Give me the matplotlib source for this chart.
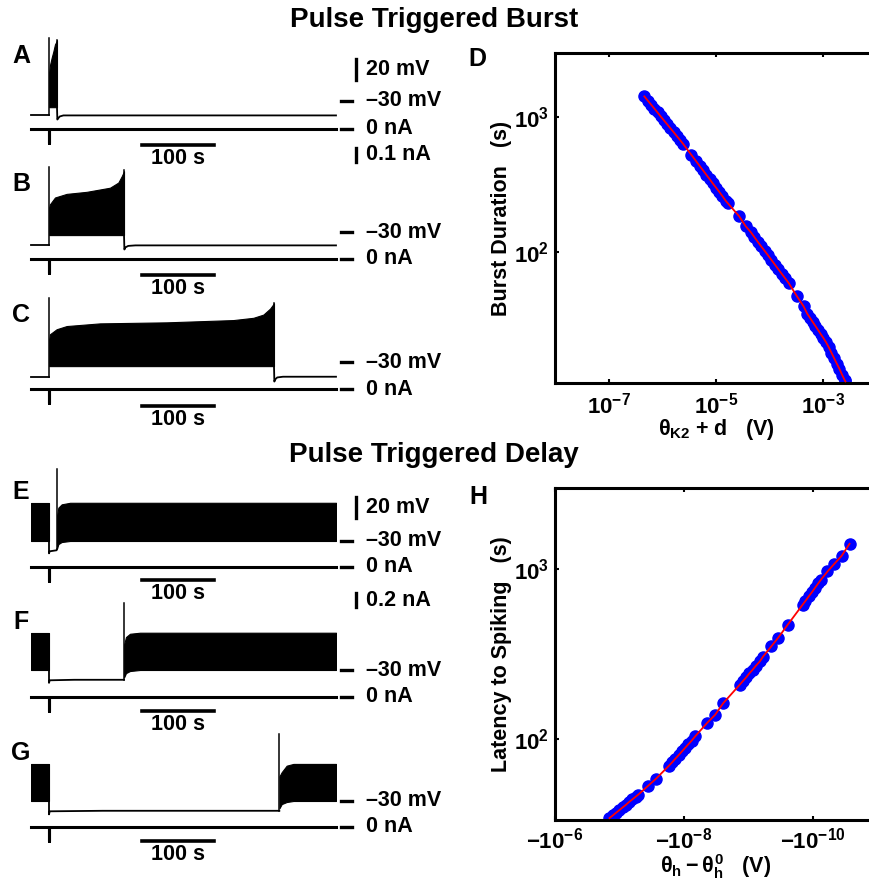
import matplotlib
matplotlib.use('Agg')
import matplotlib.pyplot as plt
from matplotlib.ticker import FixedLocator, FixedFormatter, NullLocator

plt.rcParams['font.family'] = ['Liberation Sans', 'DejaVu Sans']
plt.rcParams['font.weight'] = 'bold'
plt.rcParams['mathtext.fontset'] = 'custom'
plt.rcParams['mathtext.rm'] = 'Liberation Sans:bold'
plt.rcParams['mathtext.bf'] = 'Liberation Sans:bold'
plt.rcParams['mathtext.it'] = 'Liberation Sans:bold'
plt.rcParams['mathtext.sf'] = 'Liberation Sans:bold'

# ---------------- data ----------------
T_END = 423.6      # s, length of every trace
T_PULSE = 25.0     # s, time of the current pulse

# current pulses (nA)
I_t = [0, T_PULSE, T_PULSE, T_PULSE + 0.6, T_PULSE + 0.6, T_END]
I_burst = [0, 0, -0.1, -0.1, 0, 0]
I_delay = [0, 0, -0.2, -0.2, 0, 0]

# A: short burst (mV)
A_pre_t = [0, T_PULSE]
A_pre_v = [-44, -44]
A_band_t = [25.3, 26.4, 28.7, 31.0, 33.3, 35.6, 36.1]
A_band_hi = [-2, 5, 12, 18, 25, 28, 29]
A_band_lo = [-36, -36, -36, -36, -36, -36, -36]
A_post_t = [36.1, 36.6, 37.5, 40, 45, T_END]
A_post_v = [-36, -48, -47, -45, -44, -44]
A_spikes = [(25.0, -44, 31), (36.1, -36, 29)]

# B: medium burst
B_pre_t = [0, T_PULSE]
B_pre_v = [-43, -43]
B_band_t = [25.3, 26.4, 33.3, 49.5, 77.3, 109.7, 121.3, 125.9, 129.2]
B_band_hi = [-6, -3, 3.5, 7, 9, 13, 18, 24, 29]
B_band_lo = [-33, -33, -33, -33, -33, -33, -33, -33, -33]
B_post_t = [129.2, 129.7, 131, 135, 145, T_END]
B_post_v = [-33, -47, -45, -43.5, -43, -43]
B_spikes = [(25.0, -43, 33), (129.2, -33, 30)]

# C: long burst
C_pre_t = [0, T_PULSE]
C_pre_v = [-44.3, -44.3]
C_band_t = [25.3, 26.4, 35.6, 49.5, 95.8, 188.4, 281, 308.8, 322.7, 332, 337.5]
C_band_hi = [-8, -3, 1.8, 4.9, 7.5, 8.5, 10.7, 12.9, 16, 21.8, 27]
C_band_lo = [-34, -34, -34, -34, -34, -34, -34, -34, -34, -34, -34]
C_post_t = [337.5, 338, 339, 342, 350, T_END]
C_post_v = [-34, -49, -47, -45, -44.3, -44.3]
C_spikes = [(25.0, -44.3, 32), (337.5, -34, 27)]

# E: short delay
E_pre_t = [0, T_PULSE]
E_pre_hi = [7, 7]
E_pre_lo = [-30, -30]
E_quiet_t = [25, 25, 26, 35.5, 36.1]
E_quiet_v = [-30, -42, -40, -39, -38]
E_band_t = [36.3, 38, 42.6, 54.2, T_END]
E_band_hi = [-5, 2.4, 5.6, 7.1, 7.1]
E_band_lo = [-37, -33, -31, -30, -30]
E_spikes = [(36.1, -38, 40)]

# F: medium delay
F_pre_t = [0, T_PULSE]
F_pre_hi = [6, 6]
F_pre_lo = [-30, -30]
F_quiet_t = [25, 25, 26, 60, 129.2]
F_quiet_v = [-30, -42.5, -40, -39.5, -39.5]
F_band_t = [129.4, 131.9, 137.5, 151.4, T_END]
F_band_hi = [-5, 2, 5.2, 6.2, 6.2]
F_band_lo = [-37, -33, -31, -30, -30]
F_spikes = [(129.2, -39.5, 35)]

# G: long delay
G_pre_t = [0, T_PULSE]
G_pre_hi = [6, 6]
G_pre_lo = [-30, -30]
G_quiet_t = [25, 25, 26, 100, 344.9]
G_quiet_v = [-30, -43, -40, -39.5, -39.5]
G_band_t = [345.1, 348.2, 355.1, 364.4, T_END]
G_band_hi = [-6, -2, 4.3, 6, 6]
G_band_lo = [-37, -33, -31, -30, -30]
G_spikes = [(344.9, -39.5, 35)]

# D: burst duration vs theta_K2 + d
D_theta = [4.62e-7, 5.37e-7, 6.17e-7, 7.08e-7, 8.13e-7, 9.33e-7, 1.07e-6, 1.23e-6,
           1.41e-6, 1.62e-6, 1.86e-6, 2.14e-6, 2.45e-6,
           3.45e-6, 4.17e-6, 5.01e-6, 5.75e-6, 6.61e-6, 7.59e-6, 8.71e-6, 1.0e-5,
           1.15e-5, 1.32e-5, 1.51e-5, 1.64e-5,
           2.70e-5, 3.58e-5,
           4.47e-5, 5.18e-5, 6.0e-5, 6.95e-5, 8.05e-5, 9.33e-5, 1.08e-4, 1.25e-4,
           1.45e-4, 1.68e-4, 1.95e-4, 2.26e-4,
           3.22e-4, 4.28e-4,
           5.01e-4, 5.62e-4, 6.31e-4, 7.08e-4, 7.94e-4, 8.91e-4, 1.0e-3, 1.12e-3,
           1.26e-3, 1.41e-3, 1.58e-3, 1.78e-3, 2.0e-3, 2.24e-3, 2.51e-3, 2.58e-3]
D_dur = [1422, 1321, 1236, 1156, 1081, 1009, 944, 883, 826, 773, 722, 675, 631,
         526, 476, 432, 402, 373, 347, 322, 300, 279, 259, 240, 231,
         184, 155,
         140, 129, 119, 110, 102, 94.4, 87.3, 80.7, 74.5, 68.9, 63.7, 58.9,
         47.0, 39.6,
         34.9, 32.6, 30.4, 28.4, 26.5, 24.7, 23.1, 21.5, 19.7, 18.0, 16.4, 14.9,
         13.6, 12.3, 11.2, 11.0]

# H: latency vs theta_h - theta_h^0
H_dtheta = [-1.426e-7, -1.259e-7, -1.122e-7, -1.0e-7, -8.91e-8, -7.94e-8, -7.08e-8,
            -6.31e-8, -5.62e-8, -5.13e-8, -3.66e-8, -2.73e-8,
            -1.70e-8, -1.51e-8, -1.35e-8, -1.20e-8, -1.07e-8, -9.55e-9, -8.51e-9,
            -7.59e-9, -6.61e-9, -4.38e-9, -3.26e-9, -2.43e-9,
            -1.35e-9, -1.20e-9, -1.07e-9, -9.55e-10, -8.51e-10, -7.59e-10, -6.61e-10,
            -5.87e-10, -4.38e-10, -3.45e-10, -2.43e-10,
            -1.43e-10, -1.29e-10, -1.15e-10, -1.02e-10, -9.12e-11, -8.13e-11, -7.41e-11,
            -5.87e-11, -4.65e-11, -3.54e-11, -2.67e-11]
H_lat = [34.3, 35.6, 36.9, 38.2, 39.6, 41.0, 42.6, 44.1, 45.7, 47.0, 52.7, 58.2,
         69.7, 73.1, 76.7, 80.5, 84.5, 88.7, 93.1, 97.7, 104, 124, 139, 163,
         209, 220, 231, 244, 256, 270, 286, 306, 351, 393, 471,
         617, 650, 690, 733, 778, 826, 867, 968, 1069, 1197, 1409]

# ---------------- layout ----------------
W, H = 870, 881
fig = plt.figure(figsize=(W / 100, H / 100), dpi=100)

X0 = 31            # px where traces start
PX_PER_S = 0.72    # 100 s = 72 px
MV_PX = 1.03       # px per mV
FS = 15.5


def add_ax(x0, y0, x1, y1):
    return fig.add_axes([x0 / W, 1 - y1 / H, (x1 - x0) / W, (y1 - y0) / H])


def t_at(px):
    return (px - X0) / PX_PER_S


def volt_ax(ref):
    ax = add_ax(X0, ref - 90, X0 + T_END * PX_PER_S, ref + 25)
    ax.set_xlim(0, T_END)
    ax.set_ylim(-30 - 25 / MV_PX, -30 + 90 / MV_PX)
    ax.axis('off')
    return ax


def curr_ax(zero, px_nA):
    ax = add_ax(X0, zero - 10, X0 + T_END * PX_PER_S, zero + 40)
    ax.set_xlim(0, T_END)
    ax.set_ylim(-40 / px_nA, 10 / px_nA)
    ax.axis('off')
    return ax


def draw_trace(ref, zero, bar, px_nA, I, lines, bands, spikes, label):
    av = volt_ax(ref)
    for t, v in lines:
        av.plot(t, v, color='black', lw=1.3, clip_on=False)
    for t, hi, lo in bands:
        av.fill_between(t, lo, hi, facecolor='black', edgecolor='black', lw=0.8)
    for t, lo, hi in spikes:
        av.plot([t, t], [lo, hi], color='black', lw=1.1, clip_on=False)
    # -30 mV marker
    av.plot([t_at(341), t_at(352)], [-30, -30], color='black', lw=2.4, clip_on=False)
    av.text(t_at(366), -30, '\u201330 mV', fontsize=FS, va='center', ha='left')

    ai = curr_ax(zero, px_nA)
    ai.plot(I_t, I, color='black', lw=2.2, clip_on=False)
    ai.plot([t_at(341), t_at(352)], [0, 0], color='black', lw=2.4, clip_on=False)
    ai.text(t_at(366), 0, '0 nA', fontsize=FS, va='center', ha='left')
    yb = -(bar - zero) / px_nA
    ai.plot([t_at(142), t_at(214)], [yb, yb], color='black', lw=2.6, clip_on=False)
    ai.text(t_at(178), yb - 3 / px_nA, '100 s', fontsize=FS, ha='center', va='top')

    fig.text(21 / W, 1 - label[1] / H, label[0], fontsize=18, ha='center', va='center')
    return av, ai


avA, aiA = draw_trace(101, 129, 145, 140, I_burst,
                      [(A_pre_t, A_pre_v), (A_post_t, A_post_v)],
                      [(A_band_t, A_band_hi, A_band_lo)], A_spikes, ('A', 56))
avB, aiB = draw_trace(232, 259, 275, 140, I_burst,
                      [(B_pre_t, B_pre_v), (B_post_t, B_post_v)],
                      [(B_band_t, B_band_hi, B_band_lo)], B_spikes, ('B', 184))
avC, aiC = draw_trace(362, 389, 406, 140, I_burst,
                      [(C_pre_t, C_pre_v), (C_post_t, C_post_v)],
                      [(C_band_t, C_band_hi, C_band_lo)], C_spikes, ('C', 315))
avE, aiE = draw_trace(541, 567, 580, 70, I_delay,
                      [(E_quiet_t, E_quiet_v)],
                      [(E_pre_t, E_pre_hi, E_pre_lo), (E_band_t, E_band_hi, E_band_lo)],
                      E_spikes, ('E', 492))
avF, aiF = draw_trace(670, 697, 711, 70, I_delay,
                      [(F_quiet_t, F_quiet_v)],
                      [(F_pre_t, F_pre_hi, F_pre_lo), (F_band_t, F_band_hi, F_band_lo)],
                      F_spikes, ('F', 622))
avG, aiG = draw_trace(801, 827, 841, 70, I_delay,
                      [(G_quiet_t, G_quiet_v)],
                      [(G_pre_t, G_pre_hi, G_pre_lo), (G_band_t, G_band_hi, G_band_lo)],
                      G_spikes, ('G', 753))

# amplitude scale bars
xb = t_at(356)
avA.plot([xb, xb], [-9.5, 10.5], color='black', lw=2.4, clip_on=False)
avA.text(t_at(366), 0.5, '20 mV', fontsize=FS, va='center', ha='left')
aiA.plot([xb, xb], [-(162 - 129) / 140, -(148 - 129) / 140], color='black', lw=2.4, clip_on=False)
aiA.text(t_at(366), -(155 - 129) / 140, '0.1 nA', fontsize=FS, va='center', ha='left')
avE.plot([xb, xb], [-7.5, 12.5], color='black', lw=2.4, clip_on=False)
avE.text(t_at(366), 2.5, '20 mV', fontsize=FS, va='center', ha='left')
aiE.plot([xb, xb], [-(607 - 567) / 70, -(593 - 567) / 70], color='black', lw=2.4, clip_on=False)
aiE.text(t_at(366), -(600 - 567) / 70, '0.2 nA', fontsize=FS, va='center', ha='left')

# titles
fig.text(434 / W, 1 - 20 / H, 'Pulse Triggered Burst', fontsize=20, ha='center', va='center')
fig.text(434 / W, 1 - 455 / H, 'Pulse Triggered Delay', fontsize=20, ha='center', va='center')


def style_log(ax, xt, xl, yt, yl, xpad):
    for s in ax.spines.values():
        s.set_linewidth(2.2)
    ax.xaxis.set_major_locator(FixedLocator(xt))
    ax.xaxis.set_major_formatter(FixedFormatter(xl))
    ax.xaxis.set_minor_locator(NullLocator())
    ax.yaxis.set_major_locator(FixedLocator(yt))
    ax.yaxis.set_major_formatter(FixedFormatter(yl))
    ax.yaxis.set_minor_locator(NullLocator())
    ax.tick_params(which='both', direction='in', length=3, width=1.5,
                   top=True, right=True, labelsize=16)
    ax.tick_params(axis='x', pad=xpad)
    ax.tick_params(axis='y', pad=4)


# D
axD = add_ax(555, 53, 877, 383)
axD.set_xscale('log')
axD.set_yscale('log')
axD.plot(D_theta, D_dur, 'o', color='#0000ff', ms=8, mec='#0000ff', zorder=2)
axD.plot(D_theta, D_dur, '-', color='#ff0000', lw=1.3, zorder=3)
axD.set_xlim(1e-8, 1e-2)
axD.set_ylim(10.7, 2980)
style_log(axD, [1e-7, 1e-5, 1e-3], [r'$10^{-7}$', r'$10^{-5}$', r'$10^{-3}$'],
          [1e2, 1e3], [r'$10^{2}$', r'$10^{3}$'], 7)
fig.text(502 / W, 1 - 218 / H, 'Burst Duration   (s)', fontsize=FS, rotation=90,
         ha='center', va='center')
fig.text(716 / W, 1 - 430 / H, r'$\theta_{K2}$ + d   (V)', fontsize=FS,
         ha='center', va='center')
fig.text(477 / W, 1 - 59 / H, 'D', fontsize=18, ha='center', va='center')

# H
axH = add_ax(555, 488, 877, 820)
axH.set_xscale('log')
axH.set_yscale('log')
H_mag = [-v for v in H_dtheta]
axH.plot(H_mag, H_lat, 'o', color='#0000ff', ms=8, mec='#0000ff', zorder=2)
axH.plot(H_mag, H_lat, '-', color='#ff0000', lw=1.3, zorder=3)
axH.set_xlim(1e-6, 1e-11)
axH.set_ylim(33.4, 3000)
style_log(axH, [1e-6, 1e-8, 1e-10], [r'$-10^{-6}$', r'$-10^{-8}$', r'$-10^{-10}$'],
          [1e2, 1e3], [r'$10^{2}$', r'$10^{3}$'], 5.5)
fig.text(502 / W, 1 - 654 / H, 'Latency to Spiking   (s)', fontsize=FS, rotation=90,
         ha='center', va='center')
fig.text(716 / W, 1 - 867 / H, r'$\theta_h - \theta_h^0$   (V)', fontsize=FS,
         ha='center', va='center')
fig.text(478 / W, 1 - 497 / H, 'H', fontsize=18, ha='center', va='center')

fig.savefig('out.png', dpi=100)
